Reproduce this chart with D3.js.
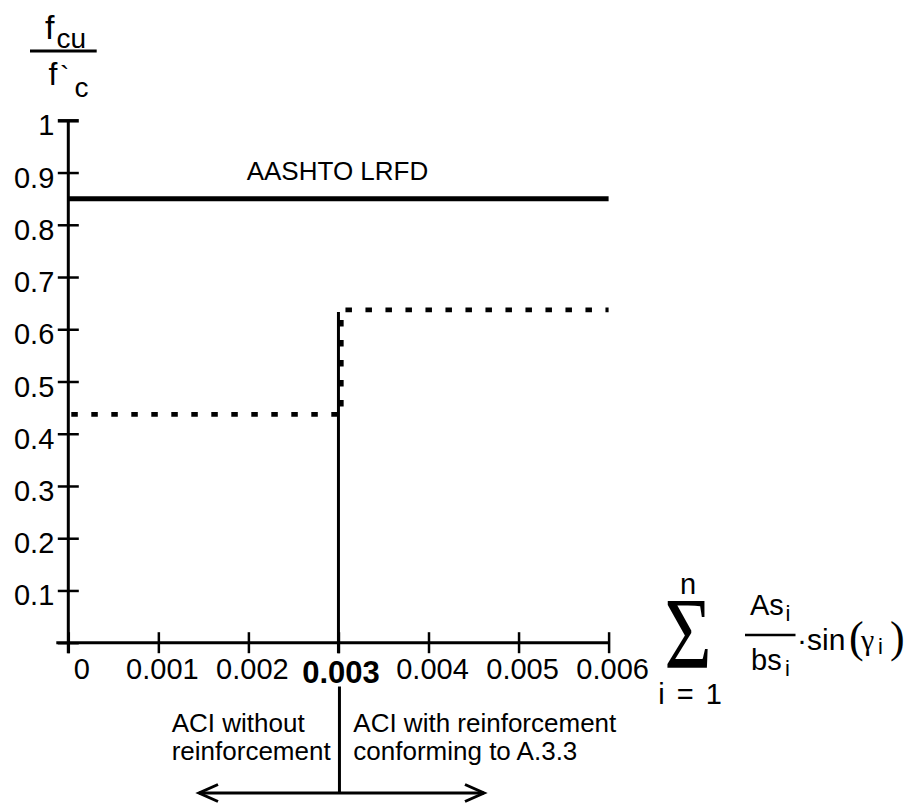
<!DOCTYPE html>
<html>
<head>
<meta charset="utf-8">
<script src="https://cdn.jsdelivr.net/npm/d3@7"></script>
<style>
  html, body { margin: 0; padding: 0; background: #fff; }
  svg { display: block; }
  text { font-family: "Liberation Sans", Arial, sans-serif; fill: #000; }
</style>
</head>
<body>
<svg id="chart" width="914" height="806"></svg>
<script>
// ---------- data ----------
const xTicks = [0, 0.001, 0.002, 0.003, 0.004, 0.005, 0.006];
const xTickLabels = ["0", "0.001", "0.002", "0.003", "0.004", "0.005", "0.006"];
const xBoldTick = 0.003;
const yTicks = [0, 0.1, 0.2, 0.3, 0.4, 0.5, 0.6, 0.7, 0.8, 0.9, 1];
const yTickLabels = ["", "0.1", "0.2", "0.3", "0.4", "0.5", "0.6", "0.7", "0.8", "0.9", "1"];
const aashtoX = [0, 0.006];
const aashtoY = [0.85, 0.85];
const aashtoLabel = "AASHTO LRFD";
const aciLowX = [0, 0.003];
const aciLowY = [0.437, 0.437];
const aciStepX = [0.003, 0.003];
const aciStepY = [0.437, 0.637];
const aciHighX = [0.003, 0.006];
const aciHighY = [0.637, 0.637];
const limitX = 0.003;
const limitTopY = 0.633;
const leftNote = ["ACI without", "reinforcement"];
const rightNote = ["ACI with reinforcement", "conforming to A.3.3"];

// ---------- setup ----------
const svg = d3.select("#chart");
const x = d3.scaleLinear().domain([0, 0.006]).range([68.3, 608.6]);
const y = d3.scaleLinear().domain([0, 1]).range([642.7, 120.3]);
const line = d3.line().x(d => x(d[0])).y(d => y(d[1]));
const zip = (a, b) => a.map((v, i) => [v, b[i]]);

// ---------- axes ----------
const yAxis = svg.append("g").attr("transform", `translate(${x(0)},0)`)
  .call(d3.axisLeft(y).tickValues(yTicks).tickFormat((d, i) => yTickLabels[i]).tickSize(0));
yAxis.select(".domain").remove();
yAxis.selectAll(".tick line").attr("x1", -10.5).attr("x2", 10.5)
  .attr("stroke", "#000").attr("stroke-width", d => d === 1 ? 3.5 : 2.5);
yAxis.selectAll(".tick text").attr("x", -14).attr("dy", null).attr("y", 14.5)
  .style("font-size", "29px").style("font-family", "Liberation Sans, Arial, sans-serif")
  .attr("text-anchor", "end");

const xAxis = svg.append("g").attr("transform", `translate(0,${y(0)})`)
  .call(d3.axisBottom(x).tickValues(xTicks).tickFormat((d, i) => xTickLabels[i]).tickSize(0));
xAxis.select(".domain").remove();
xAxis.selectAll(".tick line").attr("y1", -10.5).attr("y2", 10.5)
  .attr("stroke", "#000").attr("stroke-width", 2.5);
xAxis.selectAll(".tick text")
  .attr("dy", null)
  .attr("x", (d, i) => i === 0 ? 13 : (d === xBoldTick ? 2 : 3.5))
  .style("font-family", "Liberation Sans, Arial, sans-serif")
  .style("font-size", d => d === xBoldTick ? "31px" : "29px")
  .style("font-weight", d => d === xBoldTick ? "bold" : "normal")
  .attr("y", d => d === xBoldTick ? 40.6 : 36.6);

// axis lines
svg.append("line").attr("x1", x(0)).attr("x2", x(0))
  .attr("y1", y(1)).attr("y2", y(0) + 10.5)
  .attr("stroke", "#000").attr("stroke-width", 3);
svg.append("line").attr("x1", x(0) - 12).attr("x2", x(0.006))
  .attr("y1", y(0)).attr("y2", y(0))
  .attr("stroke", "#000").attr("stroke-width", 3);

// ---------- series ----------
svg.append("path").datum(zip(aashtoX, aashtoY)).attr("d", line)
  .attr("fill", "none").attr("stroke", "#000").attr("stroke-width", 5);

svg.append("text").attr("x", 246.7).attr("y", 180).style("font-size", "26px").text(aashtoLabel);

// solid limit line
svg.append("line").attr("x1", x(limitX)).attr("x2", x(limitX))
  .attr("y1", y(limitTopY)).attr("y2", y(0) + 10.5)
  .attr("stroke", "#000").attr("stroke-width", 3);

const dotted = { "fill": "none", "stroke": "#000", "stroke-width": 4.8, "stroke-dasharray": "6.5,13.5" };
function applyAttrs(sel, o) { for (const k in o) sel.attr(k, o[k]); return sel; }
applyAttrs(svg.append("path").datum(zip(aciLowX, aciLowY)).attr("d", line), dotted)
  .attr("stroke-dashoffset", -3);
applyAttrs(svg.append("path").datum(zip(aciStepX, aciStepY)).attr("d", line), dotted)
  .attr("transform", "translate(2.8,0)").attr("stroke-dashoffset", -8);
applyAttrs(svg.append("path").datum(zip(aciHighX, aciHighY)).attr("d", line), dotted)
  .attr("stroke-dashoffset", -7);

// ---------- y-axis title (f_cu / f`_c) ----------
const yt = svg.append("g");
yt.append("text").attr("x", 45).attr("y", 38.5).style("font-size", "34px").text("f");
yt.append("text").attr("x", 56.5).attr("y", 48.3).style("font-size", "28px").text("cu");
yt.append("line").attr("x1", 30).attr("x2", 96.7).attr("y1", 51).attr("y2", 51)
  .attr("stroke", "#000").attr("stroke-width", 3);
yt.append("text").attr("x", 48.5).attr("y", 85).style("font-size", "32px").text("f");
yt.append("text").attr("x", 60).attr("y", 85).style("font-size", "28px").text("`");
yt.append("text").attr("x", 74.5).attr("y", 96.7).style("font-size", "28px").text("c");

// ---------- x-axis title formula ----------
const fx = svg.append("g");
fx.append("text").attr("x", 688).attr("y", 594).attr("text-anchor", "middle")
  .style("font-size", "29px").text("n");
fx.append("text").attr("transform", "translate(688,668) scale(0.8,1)").attr("text-anchor", "middle")
  .style("font-family", "Liberation Serif, serif").style("font-size", "102px").text("Σ");
fx.append("text").attr("x", 690).attr("y", 704).attr("text-anchor", "middle")
  .style("font-size", "29px").style("word-spacing", "4px").text("i = 1");
// fraction
fx.append("text").attr("x", 750).attr("y", 615).style("font-size", "29px").text("As");
fx.append("text").attr("x", 785.5).attr("y", 621).style("font-size", "22px").text("i");
fx.append("line").attr("x1", 745).attr("x2", 795.5).attr("y1", 635).attr("y2", 635)
  .attr("stroke", "#000").attr("stroke-width", 2.5);
fx.append("text").attr("x", 751).attr("y", 670).style("font-size", "29px").text("bs");
fx.append("text").attr("x", 785).attr("y", 676).style("font-size", "22px").text("i");
fx.append("text").attr("x", 797).attr("y", 650).style("font-size", "30px").text("·sin");
fx.append("text").attr("x", 849).attr("y", 652).style("font-family", "Liberation Serif, serif")
  .style("font-size", "44px").text("(");
fx.append("text").attr("x", 861).attr("y", 650).style("font-family", "Liberation Serif, serif")
  .style("font-size", "30px").text("γ");
fx.append("text").attr("x", 878).attr("y", 654).style("font-size", "22px").text("i");
fx.append("text").attr("x", 890).attr("y", 652).style("font-family", "Liberation Serif, serif")
  .style("font-size", "44px").text(")");

// ---------- annotation below ----------
const ann = svg.append("g");
ann.selectAll("text.left").data(leftNote).join("text")
  .attr("x", 171.7).attr("y", (d, i) => 731.7 + i * 28.5).style("font-size", "26px").text(d => d);
ann.selectAll("text.right").data(rightNote).join("text")
  .attr("x", 353.3).attr("y", (d, i) => 731.7 + i * 28.5).style("font-size", "26px").text(d => d);
const ay = 793;
ann.append("line").attr("x1", x(limitX) + 1).attr("x2", x(limitX) + 1).attr("y1", 686.5).attr("y2", ay)
  .attr("stroke", "#000").attr("stroke-width", 3);
ann.append("line").attr("x1", 199).attr("x2", 484).attr("y1", ay).attr("y2", ay)
  .attr("stroke", "#000").attr("stroke-width", 3);
ann.append("path").attr("d", `M218,${ay - 8.5} L199,${ay} L218,${ay + 8.5}`)
  .attr("fill", "none").attr("stroke", "#000").attr("stroke-width", 3);
ann.append("path").attr("d", `M465,${ay - 8.5} L484,${ay} L465,${ay + 8.5}`)
  .attr("fill", "none").attr("stroke", "#000").attr("stroke-width", 3);
</script>
</body>
</html>
